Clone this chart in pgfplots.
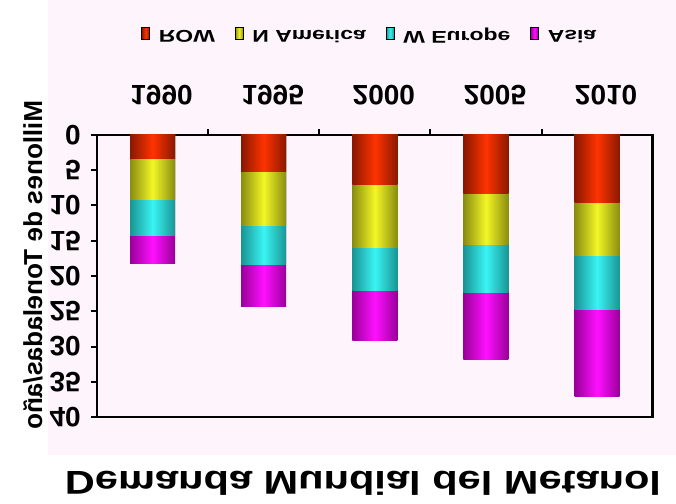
\documentclass[border=0pt]{standalone}
\usepackage{pgfplots}
\pgfplotsset{compat=1.18}
\usepackage{fontspec}
\setmainfont{Liberation Sans}
\usepackage{graphicx}

\definecolor{rowc}{HTML}{FF3300}
\definecolor{rowd}{HTML}{8A1800}
\definecolor{nac}{HTML}{F2F726}
\definecolor{nad}{HTML}{8A8C10}
\definecolor{wec}{HTML}{3AF4F4}
\definecolor{wed}{HTML}{1A9494}
\definecolor{asc}{HTML}{FF10FF}
\definecolor{asd}{HTML}{990099}
\definecolor{bg}{HTML}{FDF5FB}

\pgfplotsset{
  barrow/.style={ybar, bar width=45bp, bar shift=0pt, draw=none, forget plot,
     left color=rowd, right color=rowd, middle color=rowc},
  barna/.style={ybar, bar width=45bp, bar shift=0pt, draw=none, forget plot,
     left color=nad, right color=nad, middle color=nac},
  barwe/.style={ybar, bar width=45bp, bar shift=0pt, draw=none, forget plot,
     left color=wed, right color=wed, middle color=wec},
  baras/.style={ybar, bar width=45bp, bar shift=0pt, draw=none, forget plot,
     left color=asd, right color=asd, middle color=asc},
  rect legend/.style={legend image code/.code={\fill[##1] (0bp,-3bp) rectangle (8bp,9bp);}},
}

\begin{document}
\begin{tikzpicture}
\fill[white] (0,0) rectangle (676bp,504bp);
\fill[bg] (48bp,49bp) rectangle (676bp,504bp);
\begin{axis}[
  at={(97bp,369bp)}, anchor=north west,
  scale only axis, width=555.7bp, height=282bp,
  y dir=reverse,
  ymin=0, ymax=40, ytick={0,5,...,40},
  xmin=-0.5, xmax=4.5,
  xtick={0.5,1.5,2.5,3.5}, xticklabels={},
  extra x ticks={0,1,2,3,4}, extra x tick labels={1990,1995,2000,2005,2010},
  extra x tick style={major tick length=0pt},
  tick align=outside,
  xtick pos=right, ytick pos=left,
  major tick length=6bp,
  tick style={black, line width=2bp},
  axis line style={line width=2.5bp},
  axis background/.style={fill=bg},
  /pgf/number format/assume math mode=true,
  xticklabel style={anchor=center, inner sep=0pt, xshift=9bp, yshift=40bp, yscale=-1,
     font=\fontsize{28bp}{30bp}\selectfont\bfseries},
  yticklabel style={anchor=east, inner sep=0pt, xshift=-10bp, yscale=-1,
     font=\fontsize{28bp}{30bp}\selectfont\bfseries},
  legend style={at={(axis description cs:0.491,1.351)}, anchor=center,
     draw=none, fill=none,
     font=\fontsize{17bp}{19bp}\selectfont\bfseries,
     nodes={yscale=-1, inner sep=2bp},
     /tikz/every odd column/.append style={column sep=7bp},
     /tikz/every even column/.append style={column sep=18bp}},
  legend columns=4,
]
% cumulative heights, drawn from the top segment down
\addplot[baras] coordinates {(0,18.2)};
\addplot[barwe] coordinates {(0,14.3)};
\addplot[barna] coordinates {(0,9.1)};
\addplot[barrow] coordinates {(0,3.3)};
\addplot[baras] coordinates {(1,24.3)};
\addplot[barwe] coordinates {(1,18.4)};
\addplot[barna] coordinates {(1,12.9)};
\addplot[barrow] coordinates {(1,5.2)};
\addplot[baras] coordinates {(2,29.2)};
\addplot[barwe] coordinates {(2,22.0)};
\addplot[barna] coordinates {(2,15.9)};
\addplot[barrow] coordinates {(2,7.0)};
\addplot[baras] coordinates {(3,31.8)};
\addplot[barwe] coordinates {(3,22.3)};
\addplot[barna] coordinates {(3,15.5)};
\addplot[barrow] coordinates {(3,8.3)};
\addplot[baras] coordinates {(4,37.1)};
\addplot[barwe] coordinates {(4,24.7)};
\addplot[barna] coordinates {(4,17.1)};
\addplot[barrow] coordinates {(4,9.6)};
\addlegendimage{rect legend, left color=rowd, right color=rowd, middle color=rowc}
\addlegendentry{\scalebox{1.35}[1]{ROW}}
\addlegendimage{rect legend, left color=nad, right color=nad, middle color=nac}
\addlegendentry{\scalebox{1.35}[1]{N America}}
\addlegendimage{rect legend, left color=wed, right color=wed, middle color=wec}
\addlegendentry{\scalebox{1.35}[1]{W Europe}}
\addlegendimage{rect legend, left color=asd, right color=asd, middle color=asc}
\addlegendentry{\scalebox{1.35}[1]{Asia}}
\end{axis}
\node[rotate=90, inner sep=0pt, font=\fontsize{26bp}{28bp}\selectfont\bfseries] at (33bp,239bp) {\scalebox{-1}[1]{Millones de Toneladas/año}};
\node[yscale=-1, inner sep=0pt, font=\fontsize{33bp}{35bp}\selectfont\bfseries] at (363bp,20.5bp) {\scalebox{1.26}[1]{Demanda Mundial del Metanol}};
\pgfresetboundingbox
\useasboundingbox (0,0) rectangle (676bp,504bp);
\end{tikzpicture}
\end{document}
